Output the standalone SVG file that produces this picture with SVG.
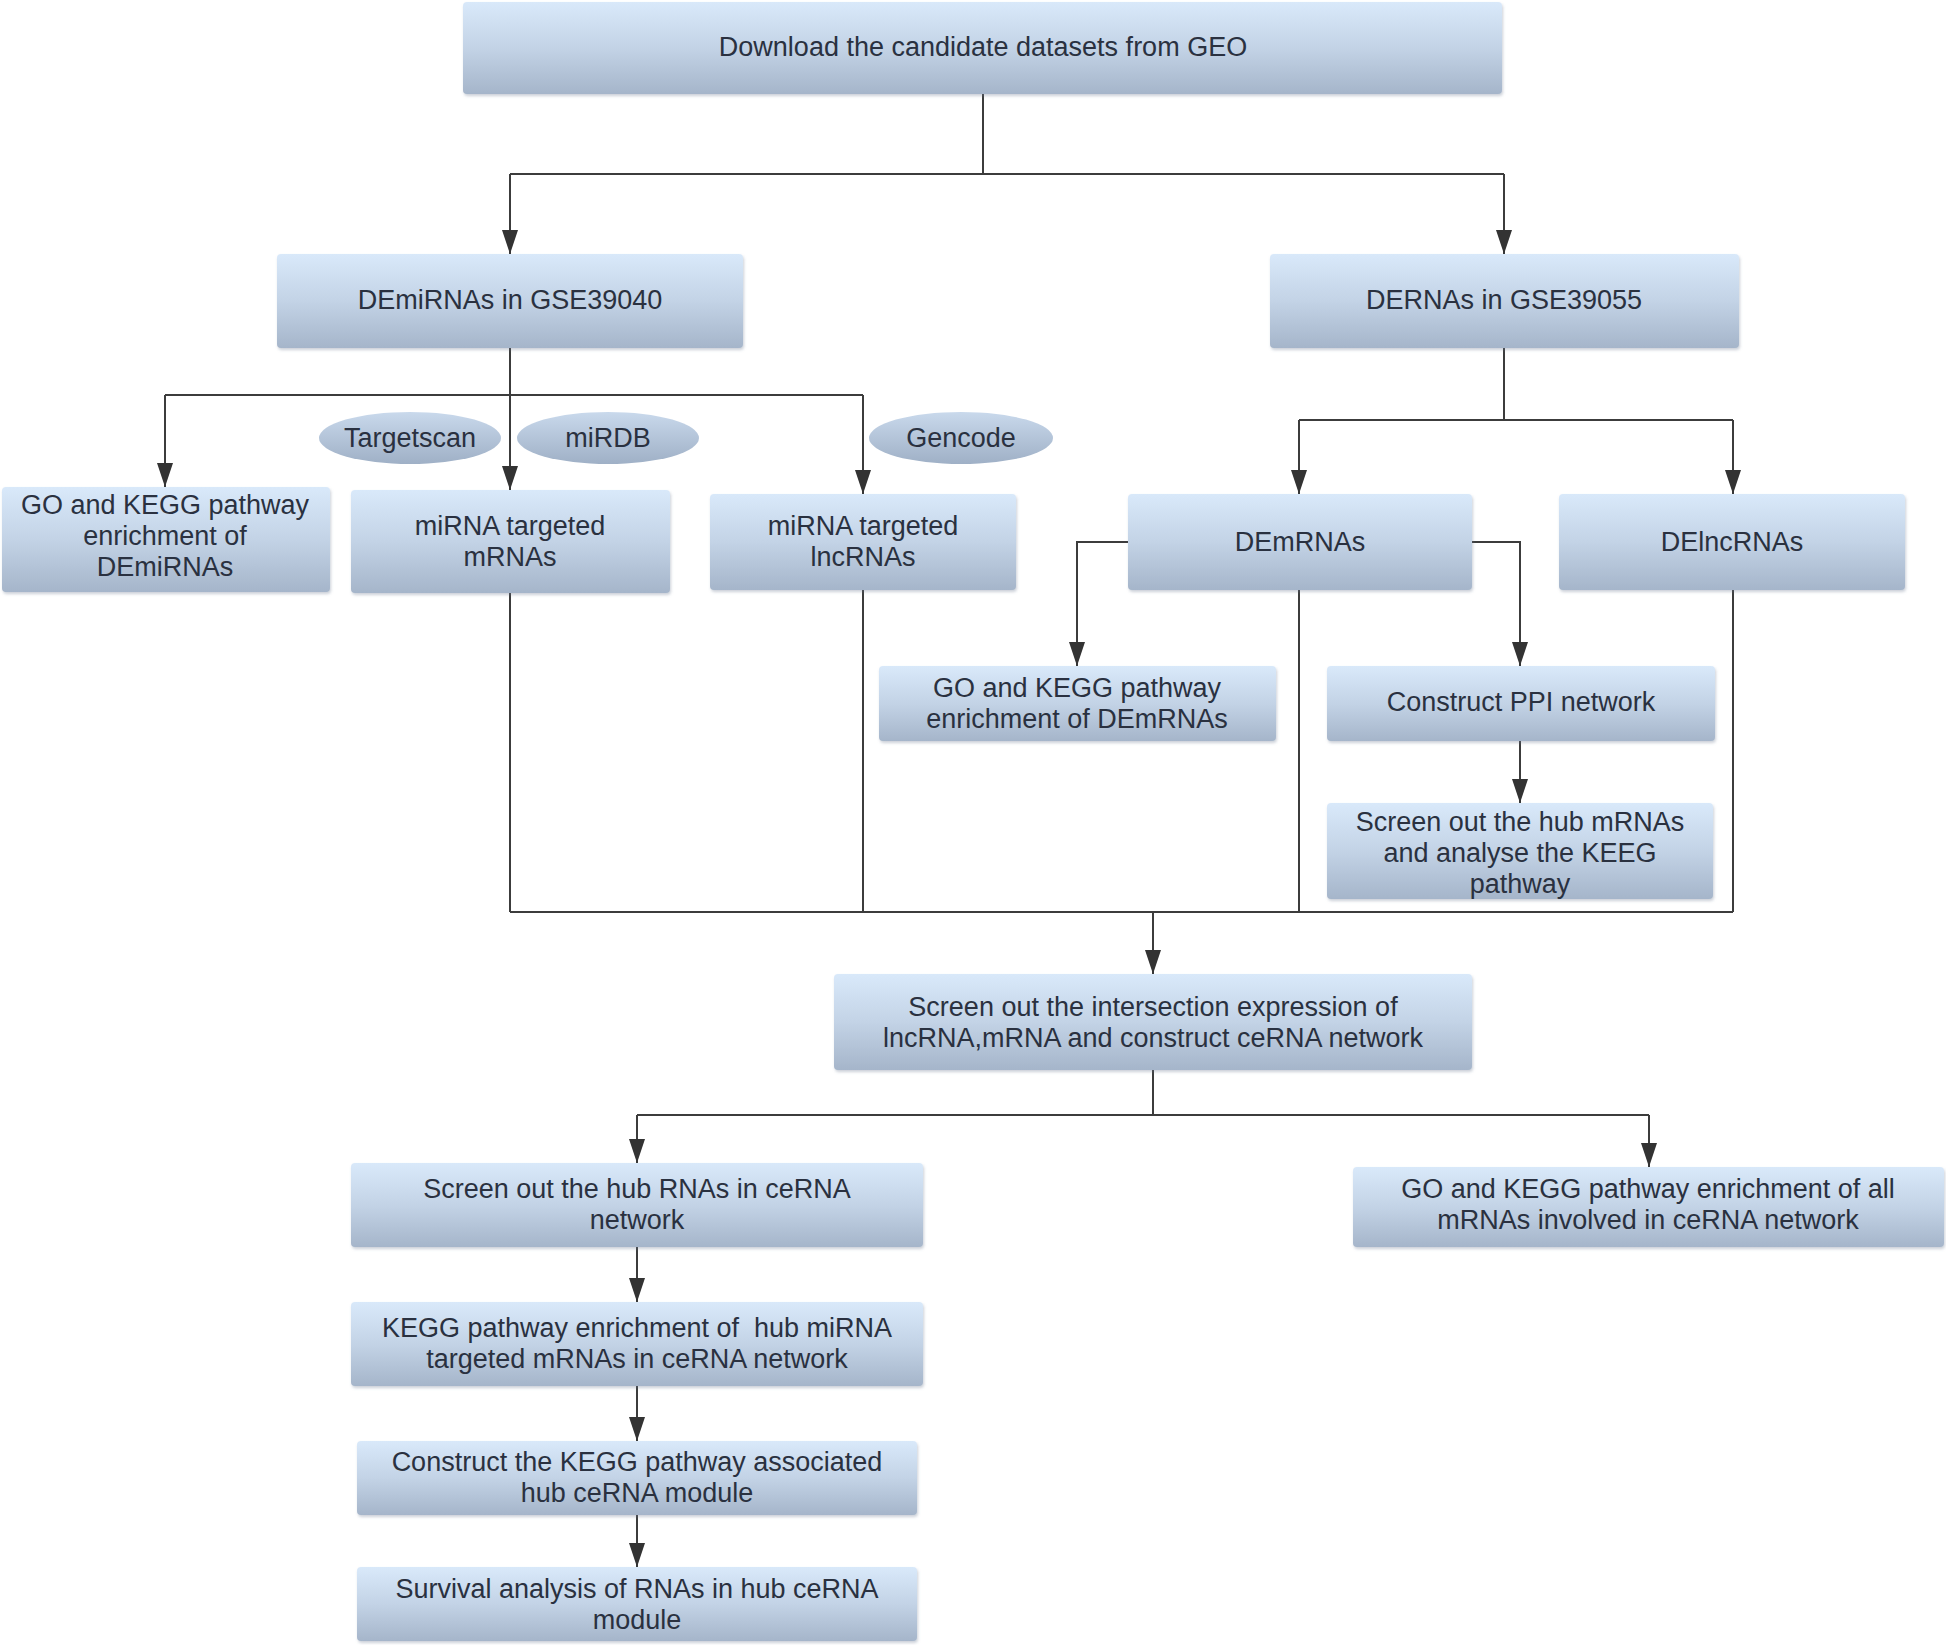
<svg xmlns="http://www.w3.org/2000/svg" width="1946" height="1645" viewBox="0 0 1946 1645">
<defs>
<linearGradient id="g" x1="0" y1="0" x2="0" y2="1">
<stop offset="0" stop-color="#d9e9fa"/>
<stop offset="0.5" stop-color="#c3d3e6"/>
<stop offset="1" stop-color="#a5b5ca"/>
</linearGradient>
<linearGradient id="ge" x1="0" y1="0" x2="0" y2="1">
<stop offset="0" stop-color="#c9d9ec"/>
<stop offset="1" stop-color="#9fb0c6"/>
</linearGradient>
<filter id="sh" x="-5%" y="-10%" width="110%" height="130%">
<feDropShadow dx="1" dy="2" stdDeviation="1.5" flood-color="#6a7a90" flood-opacity="0.35"/>
</filter>
<marker id="ar" markerUnits="userSpaceOnUse" markerWidth="26" markerHeight="18" refX="24" refY="9" orient="auto">
<path d="M0,1 L24,9 L0,17 z" fill="#333"/>
</marker>
<style>
.box{fill:url(#g);filter:url(#sh);}
.ell{fill:url(#ge);}
text{font-family:"Liberation Sans",Arial,sans-serif;font-size:27px;fill:#2a3140;text-anchor:middle;dominant-baseline:central;white-space:pre;}
.c{fill:none;stroke:#3c3c3c;stroke-width:2;}
.a{fill:none;stroke:#3c3c3c;stroke-width:2;marker-end:url(#ar);}
</style>
</defs>
<rect width="1946" height="1645" fill="#ffffff"/>

<g id="connectors">
<path class="c" d="M983,94 V174 M510,174 H1504"/>
<path class="a" d="M510,174 V254"/>
<path class="a" d="M1504,174 V254"/>
<path class="c" d="M510,348 V395 M165,395 H863"/>
<path class="a" d="M165,395 V487"/>
<path class="a" d="M510,395 V490"/>
<path class="a" d="M863,395 V494"/>
<path class="c" d="M1504,348 V420 M1299,420 H1733"/>
<path class="a" d="M1299,420 V494"/>
<path class="a" d="M1733,420 V494"/>
<path class="a" d="M1128,542 H1077 V666"/>
<path class="a" d="M1472,542 H1520 V666"/>
<path class="a" d="M1520,741 V803"/>
<path class="c" d="M510,593 V912 M863,590 V912 M1299,590 V912 M1733,590 V912 M510,912 H1733"/>
<path class="a" d="M1153,912 V974"/>
<path class="c" d="M1153,1070 V1115 M637,1115 H1649"/>
<path class="a" d="M637,1115 V1163"/>
<path class="a" d="M1649,1115 V1167"/>
<path class="a" d="M637,1247 V1302"/>
<path class="a" d="M637,1386 V1441"/>
<path class="a" d="M637,1515 V1567"/>
</g>

<g id="n-download"><rect class="box" x="463" y="2" width="1039" height="92" rx="4"/><text x="983" y="47">Download the candidate datasets from GEO</text></g>
<g id="n-demirna"><rect class="box" x="277" y="254" width="466" height="94" rx="4"/><text x="510" y="300">DEmiRNAs in GSE39040</text></g>
<g id="n-derna"><rect class="box" x="1270" y="254" width="469" height="94" rx="4"/><text x="1504" y="300">DERNAs in GSE39055</text></g>

<g id="n-targetscan"><ellipse class="ell" cx="410" cy="438" rx="91" ry="26"/><text x="410" y="438">Targetscan</text></g>
<g id="n-mirdb"><ellipse class="ell" cx="608" cy="438" rx="91" ry="26"/><text x="608" y="438">miRDB</text></g>
<g id="n-gencode"><ellipse class="ell" cx="961" cy="438" rx="92" ry="26"/><text x="961" y="438">Gencode</text></g>

<g id="n-go-demirna"><rect class="box" x="2" y="487" width="328" height="105" rx="4"/><text x="165" y="505">GO and KEGG pathway</text><text x="165" y="536">enrichment of</text><text x="165" y="567">DEmiRNAs</text></g>
<g id="n-mirna-mrna"><rect class="box" x="351" y="490" width="319" height="103" rx="4"/><text x="510" y="526">miRNA targeted</text><text x="510" y="557">mRNAs</text></g>
<g id="n-mirna-lncrna"><rect class="box" x="710" y="494" width="306" height="96" rx="4"/><text x="863" y="526">miRNA targeted</text><text x="863" y="557">lncRNAs</text></g>
<g id="n-demrna"><rect class="box" x="1128" y="494" width="344" height="96" rx="4"/><text x="1300" y="542">DEmRNAs</text></g>
<g id="n-delncrna"><rect class="box" x="1559" y="494" width="346" height="96" rx="4"/><text x="1732" y="542">DElncRNAs</text></g>

<g id="n-go-demrna"><rect class="box" x="879" y="666" width="397" height="75" rx="4"/><text x="1077" y="688">GO and KEGG pathway</text><text x="1077" y="719">enrichment of DEmRNAs</text></g>
<g id="n-ppi"><rect class="box" x="1327" y="666" width="388" height="75" rx="4"/><text x="1521" y="702">Construct PPI network</text></g>
<g id="n-hub-mrna"><rect class="box" x="1327" y="803" width="386" height="96" rx="4"/><text x="1520" y="822">Screen out the hub mRNAs</text><text x="1520" y="853">and analyse the KEEG</text><text x="1520" y="884">pathway</text></g>

<g id="n-intersect"><rect class="box" x="834" y="974" width="638" height="96" rx="4"/><text x="1153" y="1007">Screen out the intersection expression of</text><text x="1153" y="1038">lncRNA,mRNA and construct ceRNA network</text></g>

<g id="n-hub-rna"><rect class="box" x="351" y="1163" width="572" height="84" rx="4"/><text x="637" y="1189">Screen out the hub RNAs in ceRNA</text><text x="637" y="1220">network</text></g>
<g id="n-go-all"><rect class="box" x="1353" y="1167" width="591" height="80" rx="4"/><text x="1648" y="1189">GO and KEGG pathway enrichment of all</text><text x="1648" y="1220">mRNAs involved in ceRNA network</text></g>
<g id="n-kegg-hub"><rect class="box" x="351" y="1302" width="572" height="84" rx="4"/><text x="637" y="1328">KEGG pathway enrichment of  hub miRNA</text><text x="637" y="1359">targeted mRNAs in ceRNA network</text></g>
<g id="n-module"><rect class="box" x="357" y="1441" width="560" height="74" rx="4"/><text x="637" y="1462">Construct the KEGG pathway associated</text><text x="637" y="1493">hub ceRNA module</text></g>
<g id="n-survival"><rect class="box" x="357" y="1567" width="560" height="74" rx="4"/><text x="637" y="1589">Survival analysis of RNAs in hub ceRNA</text><text x="637" y="1620">module</text></g>
</svg>
